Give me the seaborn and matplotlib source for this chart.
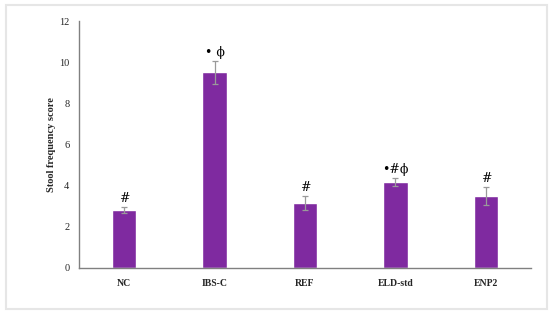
import matplotlib
matplotlib.use("Agg")
import matplotlib.pyplot as plt
import seaborn as sns
import pandas as pd
from matplotlib.patches import Rectangle

groups = ["NC", "IBS-C", "REF", "ELD-std", "ENP2"]
scores = [2.82, 9.5, 3.17, 4.17, 3.5]
errors = [0.15, 0.55, 0.33, 0.18, 0.43]
marks = ["#", "\u2022 \u03D5", "#", "\u2022#\u03D5", "#"]

sns.set_style("white")
plt.rcParams["font.family"] = ["Liberation Serif", "DejaVu Serif"]

df = pd.DataFrame({"group": groups, "score": scores})

fig = plt.figure(figsize=(5.5, 3.14), dpi=100)
ax = fig.add_axes([0.1436, 0.1465, 0.8219, 0.7865])

sns.barplot(data=df, x="group", y="score", color="#7F2AA0", width=0.27,
            saturation=1, errorbar=None, ax=ax)
ax.errorbar(range(len(groups)), scores, yerr=errors, fmt="none",
            ecolor="#9a9a9a", elinewidth=0.9, capsize=2, capthick=0.9)

for i, (v, e, m) in enumerate(zip(scores, errors, marks)):
    ax.annotate(m, (i, v + e), xytext=(0, 1.5), textcoords="offset points",
                ha="center", va="bottom", fontsize=9, color="black",
                family=["DejaVu Serif"])

ax.set_ylim(0, 12)
ax.set_yticks(range(0, 13, 2))
ax.set_xlim(-0.5, 4.5)
ax.set_xlabel("")
ax.set_ylabel("Stool frequency score", fontsize=7.5, fontweight="bold", labelpad=2)
ax.tick_params(axis="y", length=0, pad=7, labelsize=7.5)
ax.tick_params(axis="x", length=0, pad=8, labelsize=7)
for lab in ax.get_xticklabels():
    lab.set_fontweight("bold")

for s in ["top", "right"]:
    ax.spines[s].set_visible(False)
for s in ["left", "bottom"]:
    ax.spines[s].set_color("#808080")
    ax.spines[s].set_linewidth(1.0)

fig.patches.append(Rectangle((6 / 550, 5 / 314), 541 / 550, 304 / 314,
                             transform=fig.transFigure, fill=False,
                             edgecolor="#e6e6e6", linewidth=1.5))

fig.savefig("out.png", dpi=100)
